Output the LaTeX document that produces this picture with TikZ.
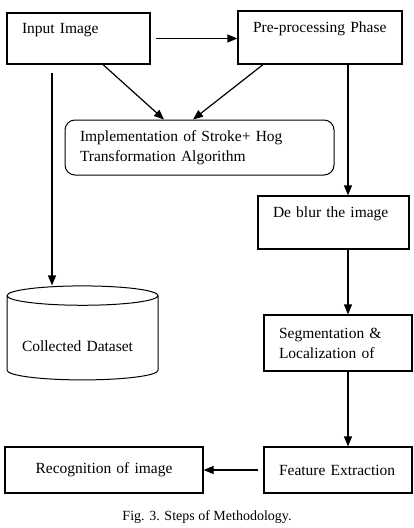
\documentclass[tikz,border=0pt]{standalone}
\usepackage{fontspec}
\setmainfont{Liberation Serif}
\usetikzlibrary{arrows.meta,shapes.geometric}

\begin{document}
\begin{tikzpicture}[x=1pt, y=-1pt,
  stepbox/.style={draw, line width=1.2pt, align=left, inner xsep=15pt, inner ysep=0pt,
    font=\fontsize{15.5}{20}\selectfont},
  flow/.style={line width=1.2pt, -{Triangle[length=10pt,width=8pt]}}]
\useasboundingbox (0,0) rectangle (414,528);
% the steps
\node[stepbox, text width=113pt, minimum height=51pt] (inp) at (78.5,38.5) {Input Image\\\mbox{}};
\node[stepbox, text width=134pt, minimum height=53pt] (pre) at (320,37.5) {Pre-processing Phase\\\mbox{}};
\node[stepbox, rounded corners=10pt, line width=1pt, text width=239pt, minimum height=55pt] (impl) at (199.5,147.5)
  {Implementation of Stroke+ Hog\\Transformation Algorithm};
\node[stepbox, text width=121pt, minimum height=53pt] (deblur) at (333.5,222.5) {De blur the image\\\mbox{}};
\node[stepbox, text width=118pt, minimum height=56pt] (seg) at (338,343) {Segmentation \&\\Localization of};
\node[stepbox, text width=118pt, minimum height=46pt] (feat) at (338,470) {Feature Extraction};
\node[stepbox, align=center, text width=168pt, minimum height=46pt] (rec) at (104,470) {Recognition of image};
\node[draw, cylinder, shape border rotate=90, aspect=0.16, line width=1pt, inner sep=0pt,
  minimum width=151pt, minimum height=94pt, align=left, text width=121pt,
  font=\fontsize{15.5}{20}\selectfont] (data) at (82.5,338) {\mbox{}\\[8pt]Collected Dataset};
\node[font=\fontsize{14}{16}\selectfont] (cap) at (207,517) {Fig. 3. Steps of Methodology.};
% connectors
\coordinate (lcol) at (52,73);
\coordinate (rcol) at (348,64);
\draw[flow, shorten <=5pt] (inp.east) -- (inp.east -| pre.west);
\draw[flow] ([xshift=24.5pt]inp.south) -- ([xshift=-35.5pt]impl.north);
\draw[flow] ([xshift=-57pt]pre.south) -- ([xshift=-6.5pt]impl.north);
\draw[flow] (lcol) -- (lcol |- data.north);
\draw[flow] (rcol |- pre.south) -- (rcol |- deblur.north);
\draw[flow] (rcol |- deblur.south) -- (rcol |- seg.north);
\draw[flow] (rcol |- seg.south) -- (rcol |- feat.north);
\draw[flow, shorten <=5pt] (feat.west) -- (feat.west -| rec.east);
\end{tikzpicture}
\end{document}
